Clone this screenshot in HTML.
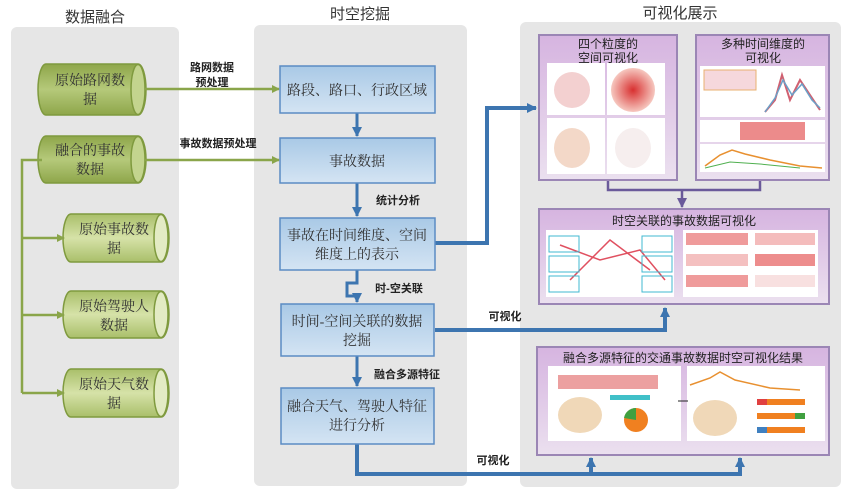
<!DOCTYPE html>
<html><head><meta charset="utf-8"><style>
html,body{margin:0;padding:0;background:#fff;}
svg{display:block;}
text{font-family:"Liberation Sans","Noto Sans CJK SC",sans-serif;}
.sr{font-family:"Liberation Serif","Noto Serif CJK SC",serif;}
</style></head><body>
<svg width="865" height="499" viewBox="0 0 865 499" xmlns="http://www.w3.org/2000/svg">
<defs>
<linearGradient id="gr" x1="0" y1="0" x2="0" y2="1"><stop offset="0" stop-color="#8ea64a"/><stop offset="0.5" stop-color="#b5c97a"/><stop offset="1" stop-color="#8ea64a"/></linearGradient>
<linearGradient id="gr2" x1="0" y1="0" x2="0" y2="1"><stop offset="0" stop-color="#a9bf6a"/><stop offset="0.5" stop-color="#d6e2a8"/><stop offset="1" stop-color="#a9bf6a"/></linearGradient>
<linearGradient id="bl" x1="0" y1="0" x2="0" y2="1"><stop offset="0" stop-color="#a9c9e6"/><stop offset="1" stop-color="#d4e4f3"/></linearGradient>
<linearGradient id="pu" x1="0" y1="0" x2="0" y2="1"><stop offset="0" stop-color="#d6b4e0"/><stop offset="1" stop-color="#ebe0ef"/></linearGradient>
<radialGradient id="red" cx="0.5" cy="0.5" r="0.5"><stop offset="0" stop-color="#d83030"/><stop offset="1" stop-color="#f6c8c0"/></radialGradient>
<marker id="ag" markerWidth="8" markerHeight="8" refX="7" refY="4" orient="auto" markerUnits="userSpaceOnUse"><path d="M0,0 L8,4 L0,8 z" fill="#8aa54a"/></marker>
<marker id="ab" markerWidth="10" markerHeight="10" refX="9" refY="5" orient="auto" markerUnits="userSpaceOnUse"><path d="M0,0 L10,5 L0,10 z" fill="#3d75b0"/></marker>
<marker id="ap" markerWidth="10" markerHeight="10" refX="9" refY="5" orient="auto" markerUnits="userSpaceOnUse"><path d="M0,0 L10,5 L0,10 z" fill="#6a5a9a"/></marker>
</defs>
<rect x="11" y="27" width="168" height="462" rx="6" fill="#e6e6e6"/>
<rect x="254" y="25" width="213" height="461" rx="6" fill="#e6e6e6"/>
<rect x="520" y="22" width="321" height="465" rx="6" fill="#e6e6e6"/>
<text x="95" y="22" font-size="15" text-anchor="middle" fill="#333">数据融合</text>
<text x="360" y="19" font-size="15" text-anchor="middle" fill="#333">时空挖掘</text>
<text x="680" y="18" font-size="15" text-anchor="middle" fill="#333">可视化展示</text>

<g stroke="#7f9a3e" stroke-width="1.5">
<path d="M46,64 H138 A8,25.5 0 0 1 138,115 H46 A8,25.5 0 0 1 46,64 z" fill="url(#gr)"/>
<ellipse cx="138" cy="89.5" rx="7" ry="25" fill="#c3d48e"/>
<path d="M46,136 H138 A8,23.5 0 0 1 138,183 H46 A8,23.5 0 0 1 46,136 z" fill="url(#gr)"/>
<ellipse cx="138" cy="159.5" rx="7" ry="23" fill="#c3d48e"/>
<path d="M71,214 H161 A8,24 0 0 1 161,262 H71 A8,24 0 0 1 71,214 z" fill="url(#gr2)"/>
<ellipse cx="161" cy="238" rx="7" ry="23.5" fill="#e3ebc4"/>
<path d="M71,291 H161 A8,23.5 0 0 1 161,338 H71 A8,23.5 0 0 1 71,291 z" fill="url(#gr2)"/>
<ellipse cx="161" cy="314.5" rx="7" ry="23" fill="#e3ebc4"/>
<path d="M71,369 H161 A8,24 0 0 1 161,417 H71 A8,24 0 0 1 71,369 z" fill="url(#gr2)"/>
<ellipse cx="161" cy="393" rx="7" ry="23.5" fill="#e3ebc4"/>
</g>
<g font-size="14" text-anchor="middle" fill="#333" class="sr">
<text class="sr" x="90" y="85">原始路网数</text><text class="sr" x="90" y="104">据</text>
<text class="sr" x="90" y="155">融合的事故</text><text class="sr" x="90" y="174">数据</text>
<text class="sr" x="114" y="234">原始事故数</text><text class="sr" x="114" y="253">据</text>
<text class="sr" x="114" y="311">原始驾驶人</text><text class="sr" x="114" y="330">数据</text>
<text class="sr" x="114" y="389">原始天气数</text><text class="sr" x="114" y="408">据</text>
</g>
<g stroke="#8aa54a" stroke-width="2.5" fill="none">
<path d="M42,160 H22 V393"/>
<path d="M22,238 H64" marker-end="url(#ag)"/>
<path d="M22,315 H64" marker-end="url(#ag)"/>
<path d="M22,393 H64" marker-end="url(#ag)"/>
<path d="M145,89 H279" marker-end="url(#ag)"/>
<path d="M145,160 H279" marker-end="url(#ag)"/>
</g>
<g font-size="11" font-weight="bold" fill="#222" text-anchor="middle">
<text x="212" y="71">路网数据</text><text x="212" y="86">预处理</text>
<text x="218" y="147">事故数据预处理</text>
<text x="398" y="204">统计分析</text>
<text x="399" y="292">时-空关联</text>
<text x="407" y="378">融合多源特征</text>
<text x="505" y="320">可视化</text>
<text x="493" y="464">可视化</text>
</g>
<g stroke="#3d75b0" stroke-width="3" fill="none">
<path d="M357,113 V136" marker-end="url(#ab)"/>
<path d="M357,183 V216" marker-end="url(#ab)"/>
<path d="M357,270 V283 H347 V296 H357 V302" />
<path d="M357,296 V302" marker-end="url(#ab)"/>
<path d="M357,356 V386" marker-end="url(#ab)"/>
<path d="M435,243 H487 V108 H536" stroke-width="4" marker-end="url(#ab)"/>
<path d="M435,330 H665 V308" stroke-width="4" marker-end="url(#ab)"/>
<path d="M357,444 V474 H740 V458" stroke-width="4" marker-end="url(#ab)"/>
<path d="M591,474 V458" stroke-width="4" marker-end="url(#ab)"/>
</g>
<g fill="url(#bl)" stroke="#5b8cc4" stroke-width="1.5">
<rect x="280" y="66" width="155" height="47"/>
<rect x="280" y="138" width="155" height="45"/>
<rect x="280" y="218" width="155" height="52"/>
<rect x="281" y="304" width="153" height="52"/>
<rect x="281" y="388" width="153" height="56"/>
</g>
<g font-size="14" text-anchor="middle" fill="#333">
<text class="sr" x="357" y="95">路段、路口、行政区域</text>
<text class="sr" x="357" y="166">事故数据</text>
<text class="sr" x="357" y="240">事故在时间维度、空间</text><text class="sr" x="357" y="259">维度上的表示</text>
<text class="sr" x="357" y="326">时间-空间关联的数据</text><text class="sr" x="357" y="345">挖掘</text>
<text class="sr" x="357" y="411">融合天气、驾驶人特征</text><text class="sr" x="357" y="430">进行分析</text>
</g>
<g stroke="#6a5a9a" stroke-width="2.5" fill="none">
<path d="M608,180 V190 H760 V180"/>
<path d="M682,190 V207" marker-end="url(#ap)"/>
</g>
<g fill="url(#pu)" stroke="#9b86b5" stroke-width="2">
<rect x="539" y="35" width="138" height="145"/>
<rect x="696" y="35" width="133" height="145"/>
<rect x="539" y="209" width="290" height="95"/>
<rect x="537" y="347" width="292" height="108"/>
</g>
<g font-size="12" text-anchor="middle" fill="#222">
<text x="608" y="48">四个粒度的</text><text x="608" y="62">空间可视化</text>
<text x="763" y="48">多种时间维度的</text><text x="763" y="62">可视化</text>
<text x="684" y="225">时空关联的事故数据可视化</text>
<text x="683" y="362">融合多源特征的交通事故数据时空可视化结果</text>
</g>
<g fill="#fff">
<rect x="547" y="63" width="58" height="52"/><rect x="607" y="63" width="58" height="52"/>
<rect x="547" y="118" width="58" height="56"/><rect x="607" y="118" width="58" height="56"/>
<rect x="700" y="66" width="125" height="51"/><rect x="700" y="120" width="125" height="22"/><rect x="700" y="144" width="125" height="28"/>
<rect x="546" y="230" width="128" height="67"/><rect x="683" y="230" width="135" height="67"/>
<rect x="548" y="366" width="133" height="75"/><rect x="687" y="366" width="138" height="75"/>
</g>
<g>
<ellipse cx="572" cy="90" rx="18" ry="18" fill="#f3d0d0"/>
<ellipse cx="633" cy="90" rx="22" ry="22" fill="url(#red)"/>
<ellipse cx="572" cy="148" rx="18" ry="20" fill="#f3d8c8"/>
<ellipse cx="633" cy="148" rx="18" ry="20" fill="#f6eeee"/>
<rect x="704" y="70" width="52" height="20" fill="#f6d8dc" stroke="#e8b070" stroke-width="1"/>
<path d="M765,112 L775,100 L782,75 L790,100 L800,80 L810,95 L820,110" stroke="#d06070" stroke-width="2" fill="none"/>
<path d="M765,112 L775,98 L783,80 L792,95 L802,84 L812,100 L820,108" stroke="#6aa0c8" stroke-width="1.5" fill="none"/>
<rect x="740" y="122" width="65" height="18" fill="#e45a5a" opacity="0.7"/>
<path d="M705,166 L720,155 L732,150 L745,154 L770,160 L800,166 L822,168" stroke="#e89030" stroke-width="1.5" fill="none"/>
<path d="M705,168 L730,162 L760,164 L800,168" stroke="#50b050" stroke-width="1" fill="none"/>
<path d="M560,245 L600,260 L640,250 L665,280 M570,280 L610,240 L650,270" stroke="#e05060" stroke-width="1.5" fill="none"/>
<rect x="549" y="236" width="30" height="16" fill="none" stroke="#40b8d0"/><rect x="549" y="256" width="30" height="16" fill="none" stroke="#40b8d0"/><rect x="549" y="276" width="30" height="16" fill="none" stroke="#40b8d0"/>
<rect x="642" y="236" width="30" height="16" fill="none" stroke="#40b8d0"/><rect x="642" y="256" width="30" height="16" fill="none" stroke="#40b8d0"/><rect x="642" y="276" width="30" height="16" fill="none" stroke="#40b8d0"/>
<rect x="686" y="233" width="62" height="12" fill="#e87070" opacity="0.7"/><rect x="755" y="233" width="60" height="12" fill="#f0a0a0" opacity="0.7"/>
<rect x="686" y="254" width="62" height="12" fill="#f4c0c0"/><rect x="755" y="254" width="60" height="12" fill="#e87070" opacity="0.8"/>
<rect x="686" y="275" width="62" height="12" fill="#e87070" opacity="0.7"/><rect x="755" y="275" width="60" height="12" fill="#f8e0e0"/>
<rect x="558" y="375" width="100" height="14" fill="#e06060" opacity="0.6"/>
<ellipse cx="580" cy="415" rx="22" ry="18" fill="#f0d8b8"/>
<circle cx="636" cy="420" r="12" fill="#f08020"/><path d="M636,420 L636,408 A12,12 0 0 0 624,418 z" fill="#40a040"/>
<rect x="610" y="395" width="40" height="5" fill="#40c0c8"/>
<path d="M690,385 L710,378 L720,372 L735,380 L770,388 L800,390" stroke="#e89030" stroke-width="1.5" fill="none"/>
<ellipse cx="715" cy="418" rx="22" ry="18" fill="#f0d8b8"/>
<rect x="757" y="399" width="48" height="6" fill="#f08020"/><rect x="757" y="413" width="48" height="6" fill="#f08020"/><rect x="757" y="427" width="48" height="6" fill="#f08020"/>
<rect x="757" y="399" width="10" height="6" fill="#e04040"/><rect x="795" y="413" width="10" height="6" fill="#40a040"/><rect x="757" y="427" width="10" height="6" fill="#4080c0"/>
<line x1="678" y1="401" x2="688" y2="401" stroke="#222"/>
</g>
</svg>
</body></html>
